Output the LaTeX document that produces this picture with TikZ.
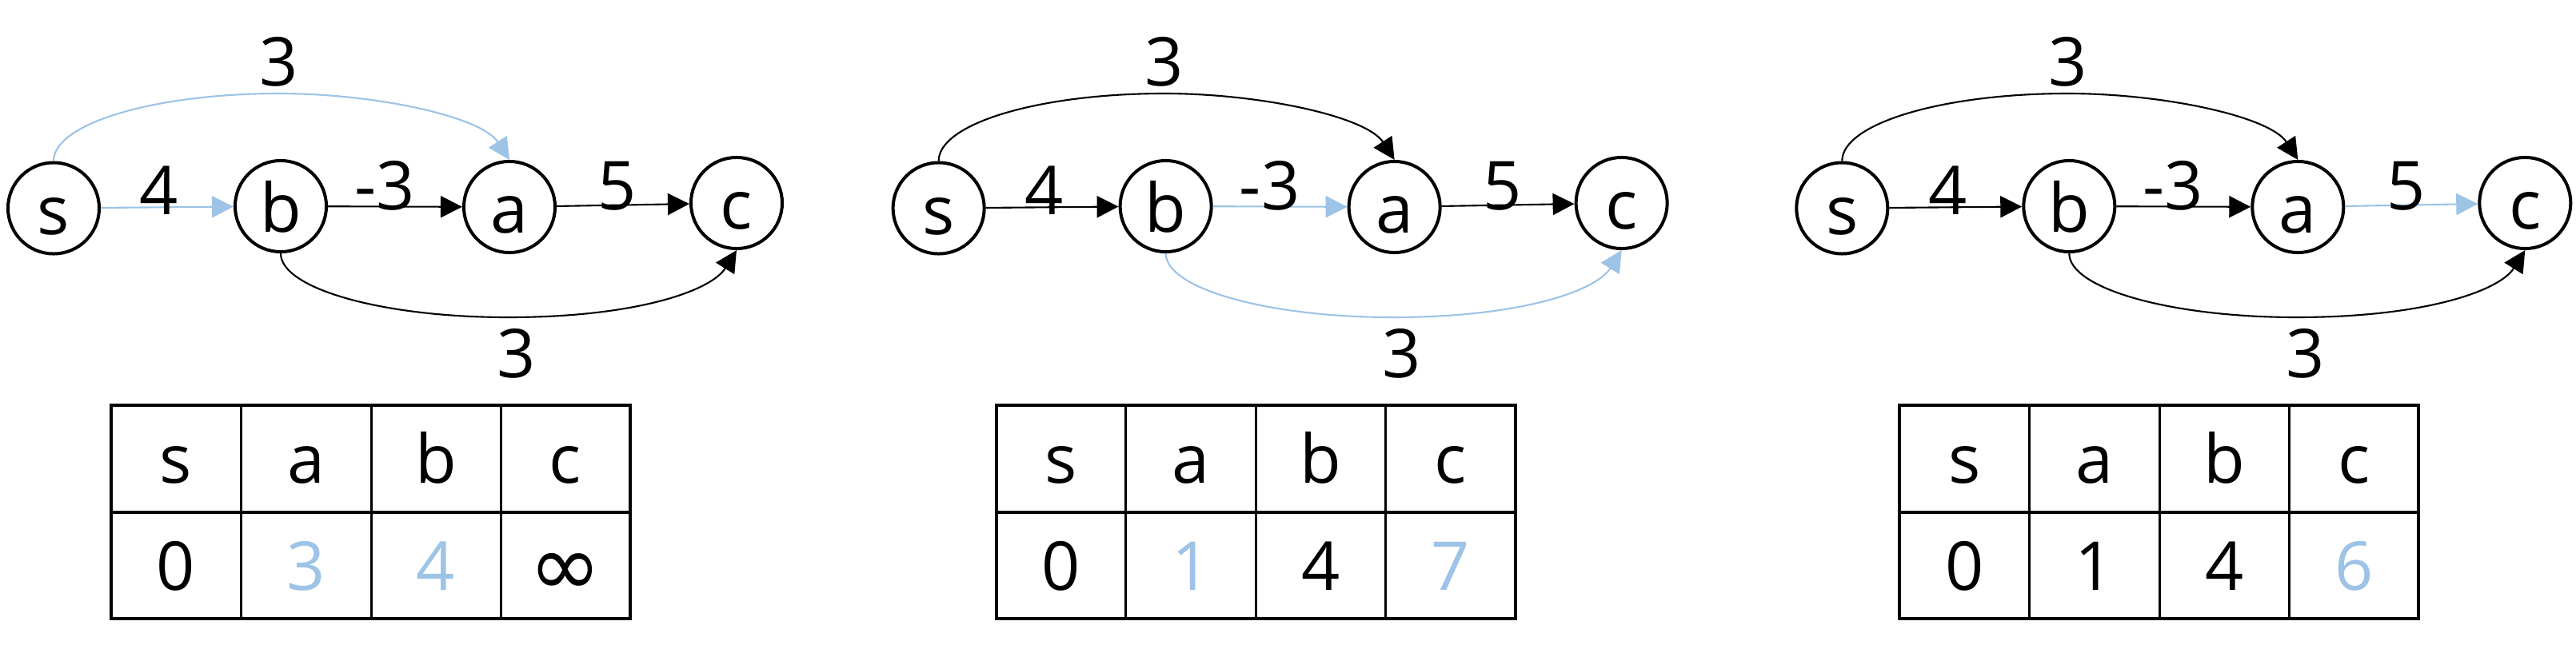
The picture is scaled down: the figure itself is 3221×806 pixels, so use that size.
\documentclass[tikz,border=0pt]{standalone}
\usepackage{fontspec}
\setmainfont{Open Sans}
\newfontfamily\symfont{DejaVu Sans}
\usetikzlibrary{arrows.meta}
\definecolor{lb}{HTML}{9DC3E6}
\tikzset{
  txt/.style={font=\fontsize{24}{28}\selectfont},
  vert/.style={txt, circle, draw, line width=0.04cm, minimum size=1.14cm,
    inner sep=0pt, text height=0.65cm, text depth=0pt},
  lbl/.style={txt, inner sep=0pt, anchor=base},
  edge/.style={line width=0.6pt, -{Triangle[length=0.27cm,width=0.27cm]}},
  blk/.style={edge, black},
  blu/.style={edge, lb},
  tblo/.style={line width=0.04cm},
  tbli/.style={line width=0.03cm},
}
\newcommand\graphpanel[5]{%
\begin{scope}[#1]
  \node[vert] (s) at (67,-260.5) {s};
  \node[vert] (b) at (351,-258) {b};
  \node[vert] (a) at (637,-259) {a};
  \node[vert] (c) at (921,-254) {c};
  \draw[esb] (s) -- (b);
  \draw[eba] (b) -- (a);
  \draw[eac] (a) -- (c);
  \draw[esa] (s.north) .. controls +(0,47) and +(-156,0) .. (349,-117)
     .. controls +(121,0) and +(-35,54) .. (a.north);
  \draw[ebc] (b.south) .. controls +(0,-44) and +(-157,0) .. (635,-397)
     .. controls +(160,0) and +(-32,-51) .. (c.south);
  \node[lbl] (lsa) at (349,-107) {3};
  \node[lbl] (lsb) at (199,-268) {4};
  \node[lbl] (lba) at (481,-262) {-3};
  \node[lbl] (lac) at (772,-262) {5};
  \node[lbl] (lbc) at (646,-472) {3};
  \draw[tblo] (139,-507) rectangle (788,-774);
  \draw[tblo] (139,-641) -- (788,-641);
  \foreach \xx in {301,464,626} \draw[tbli] (\xx,-507) -- (\xx,-774);
  \node[lbl] (hs) at (220,-604) {s};
  \node[lbl] (ha) at (382.5,-604) {a};
  \node[lbl] (hb) at (545,-604) {b};
  \node[lbl] (hc) at (707,-604) {c};
  \node[lbl] (vs) at (220,-738) {#2};
  \node[lbl] (va) at (382.5,-738) {#3};
  \node[lbl] (vb) at (545,-738) {#4};
  \node[lbl] (vc) at (707,-738) {#5};
\end{scope}}
\begin{document}
\begin{tikzpicture}[x=0.01cm, y=0.01cm]
  \path[use as bounding box] (0,0) rectangle (3221,-806);
  \graphpanel{name prefix=p1-, esb/.style={blu}, eba/.style={blk}, eac/.style={blk},
    esa/.style={blu}, ebc/.style={blk}}{0}{\textcolor{lb}{3}}{\textcolor{lb}{4}}{\raisebox{-0.07cm}{\fontsize{31}{31}\symfont ∞}}
  \graphpanel{xshift=11.06cm, name prefix=p2-, esb/.style={blk}, eba/.style={blu}, eac/.style={blk},
    esa/.style={blk}, ebc/.style={blu}}{0}{\textcolor{lb}{1}}{4}{\textcolor{lb}{7}}
  \graphpanel{xshift=22.35cm, name prefix=p3-, esb/.style={blk}, eba/.style={blk}, eac/.style={blu},
    esa/.style={blk}, ebc/.style={blk}}{0}{1}{4}{\textcolor{lb}{6}}
\end{tikzpicture}
\end{document}
